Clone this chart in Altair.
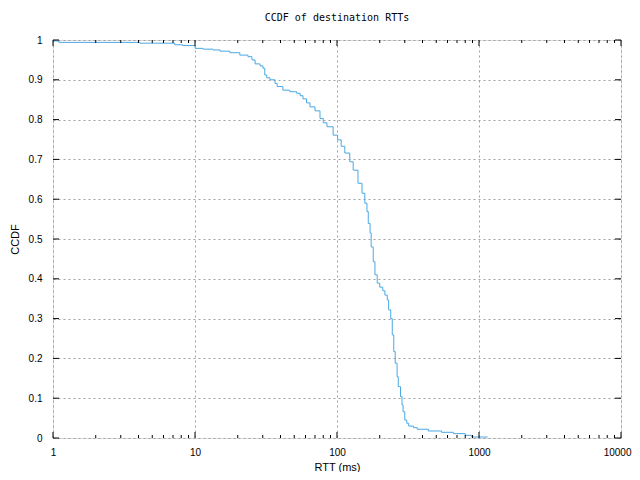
import altair as alt
import pandas as pd

# CCDF step points (RTT in ms, CCDF level starting at that RTT)
rtt = [1.0, 1.1, 4.1, 7.2, 8.2, 10, 11.4, 13.4, 15, 17.6, 20.7, 23.6, 25.2, 26.5,
       28.7, 30.1, 31.0, 32, 33.7, 36.6, 37.9, 41.6, 46.5, 52, 55, 57.6, 61, 64.5,
       70, 75.9, 80, 85, 93.9, 101, 107, 113.5, 123, 130, 140.5, 150, 157, 162.5,
       166, 171, 174, 180, 185, 192, 200, 210, 217.5, 226, 231, 239, 245, 251, 257,
       265, 270, 280, 287, 292, 300, 310, 320, 346, 367, 440, 545, 660, 800, 888, 1150]
ccdf = [0.9975, 0.994, 0.992, 0.988, 0.986, 0.979, 0.977, 0.975, 0.972, 0.968, 0.962,
        0.958, 0.95, 0.94, 0.935, 0.929, 0.912, 0.905, 0.9, 0.891, 0.883, 0.874, 0.87,
        0.866, 0.86, 0.852, 0.842, 0.832, 0.822, 0.803, 0.792, 0.782, 0.761, 0.749,
        0.733, 0.716, 0.694, 0.673, 0.64, 0.615, 0.59, 0.569, 0.539, 0.515, 0.48,
        0.443, 0.41, 0.389, 0.379, 0.37, 0.359, 0.347, 0.322, 0.3, 0.259, 0.217,
        0.188, 0.154, 0.129, 0.104, 0.083, 0.066, 0.045, 0.037, 0.03, 0.026, 0.022,
        0.0176, 0.0143, 0.0109, 0.0067, 0.0025, 0.0025]

x_major = [1, 10, 100, 1000, 10000]
x_minor = [m * d for d in [1, 10, 100, 1000] for m in range(2, 10)]
y_major = [0, 0.1, 0.2, 0.3, 0.4, 0.5, 0.6, 0.7, 0.8, 0.9, 1]

W, H = 568, 398
FONT = "DejaVu Sans Mono"

df = pd.DataFrame({"rtt": rtt, "ccdf": ccdf})
xscale = alt.Scale(type="log", domain=[1, 10000], nice=False)
yscale = alt.Scale(domain=[0, 1], nice=False, zero=False)

xaxis = alt.Axis(values=x_major, format="d", ticks=False, domain=False,
                 grid=True, gridDash=[2, 3], gridColor="#a0a0a0",
                 labelPadding=9, titlePadding=4, labelFlush=False,
                 labelOverlap=False, titleFontWeight="normal",
                 labelAlign={"condition": {"test": "datum.value >= 10000", "value": "right"},
                             "value": "center"},
                 labelOffset={"condition": {"test": "datum.value >= 10000", "value": 10},
                              "value": 0})
yaxis = alt.Axis(values=y_major, format="~g", ticks=False, domain=False,
                 grid=True, gridDash=[2, 3], gridColor="#a0a0a0",
                 labelPadding=11, titlePadding=8, labelOverlap=False,
                 labelFlush=False, titleFontWeight="normal")
XT, YT = "RTT (ms)", "CCDF"

line = alt.Chart(df).mark_line(interpolate="step-after", color="#4aa8e4", strokeWidth=1).encode(
    x=alt.X("rtt:Q", scale=xscale, title=XT, axis=xaxis),
    y=alt.Y("ccdf:Q", scale=yscale, title=YT, axis=yaxis),
)

xmaj = pd.DataFrame({"v": x_major})
xmin = pd.DataFrame({"v": x_minor})
ymaj = pd.DataFrame({"v": y_major})

def xticks(data, length):
    bot = alt.Chart(data).mark_rule(color="black").encode(
        x=alt.X("v:Q", scale=xscale, title=XT, axis=xaxis), y=alt.value(H), y2=alt.value(H - length))
    top = alt.Chart(data).mark_rule(color="black").encode(
        x=alt.X("v:Q", scale=xscale, title=XT, axis=xaxis), y=alt.value(0), y2=alt.value(length))
    return bot + top

yl = alt.Chart(ymaj).mark_rule(color="black").encode(
    y=alt.Y("v:Q", scale=yscale, title=YT, axis=yaxis), x=alt.value(0), x2=alt.value(6))
yr = alt.Chart(ymaj).mark_rule(color="black").encode(
    y=alt.Y("v:Q", scale=yscale, title=YT, axis=yaxis), x=alt.value(W), x2=alt.value(W - 6))

chart = alt.layer(line, xticks(xmaj, 6), xticks(xmin, 3), yl, yr).properties(
    width=W, height=H,
    title=alt.TitleParams("CCDF of destination RTTs", font=FONT, fontSize=10,
                          fontWeight="normal", offset=12),
    autosize=alt.AutoSizeParams(type="none"),
    padding={"left": 45, "top": 32, "right": 11, "bottom": 34},
).configure_view(stroke="black", strokeWidth=1).configure_axis(
    labelFont=FONT, labelFontSize=10, labelColor="black",
    titleFont=FONT, titleFontSize=10, titleFontWeight="normal", titleColor="black",
).configure(background="white")

chart.save("out.html", embed_options={"renderer": "svg", "actions": False})
